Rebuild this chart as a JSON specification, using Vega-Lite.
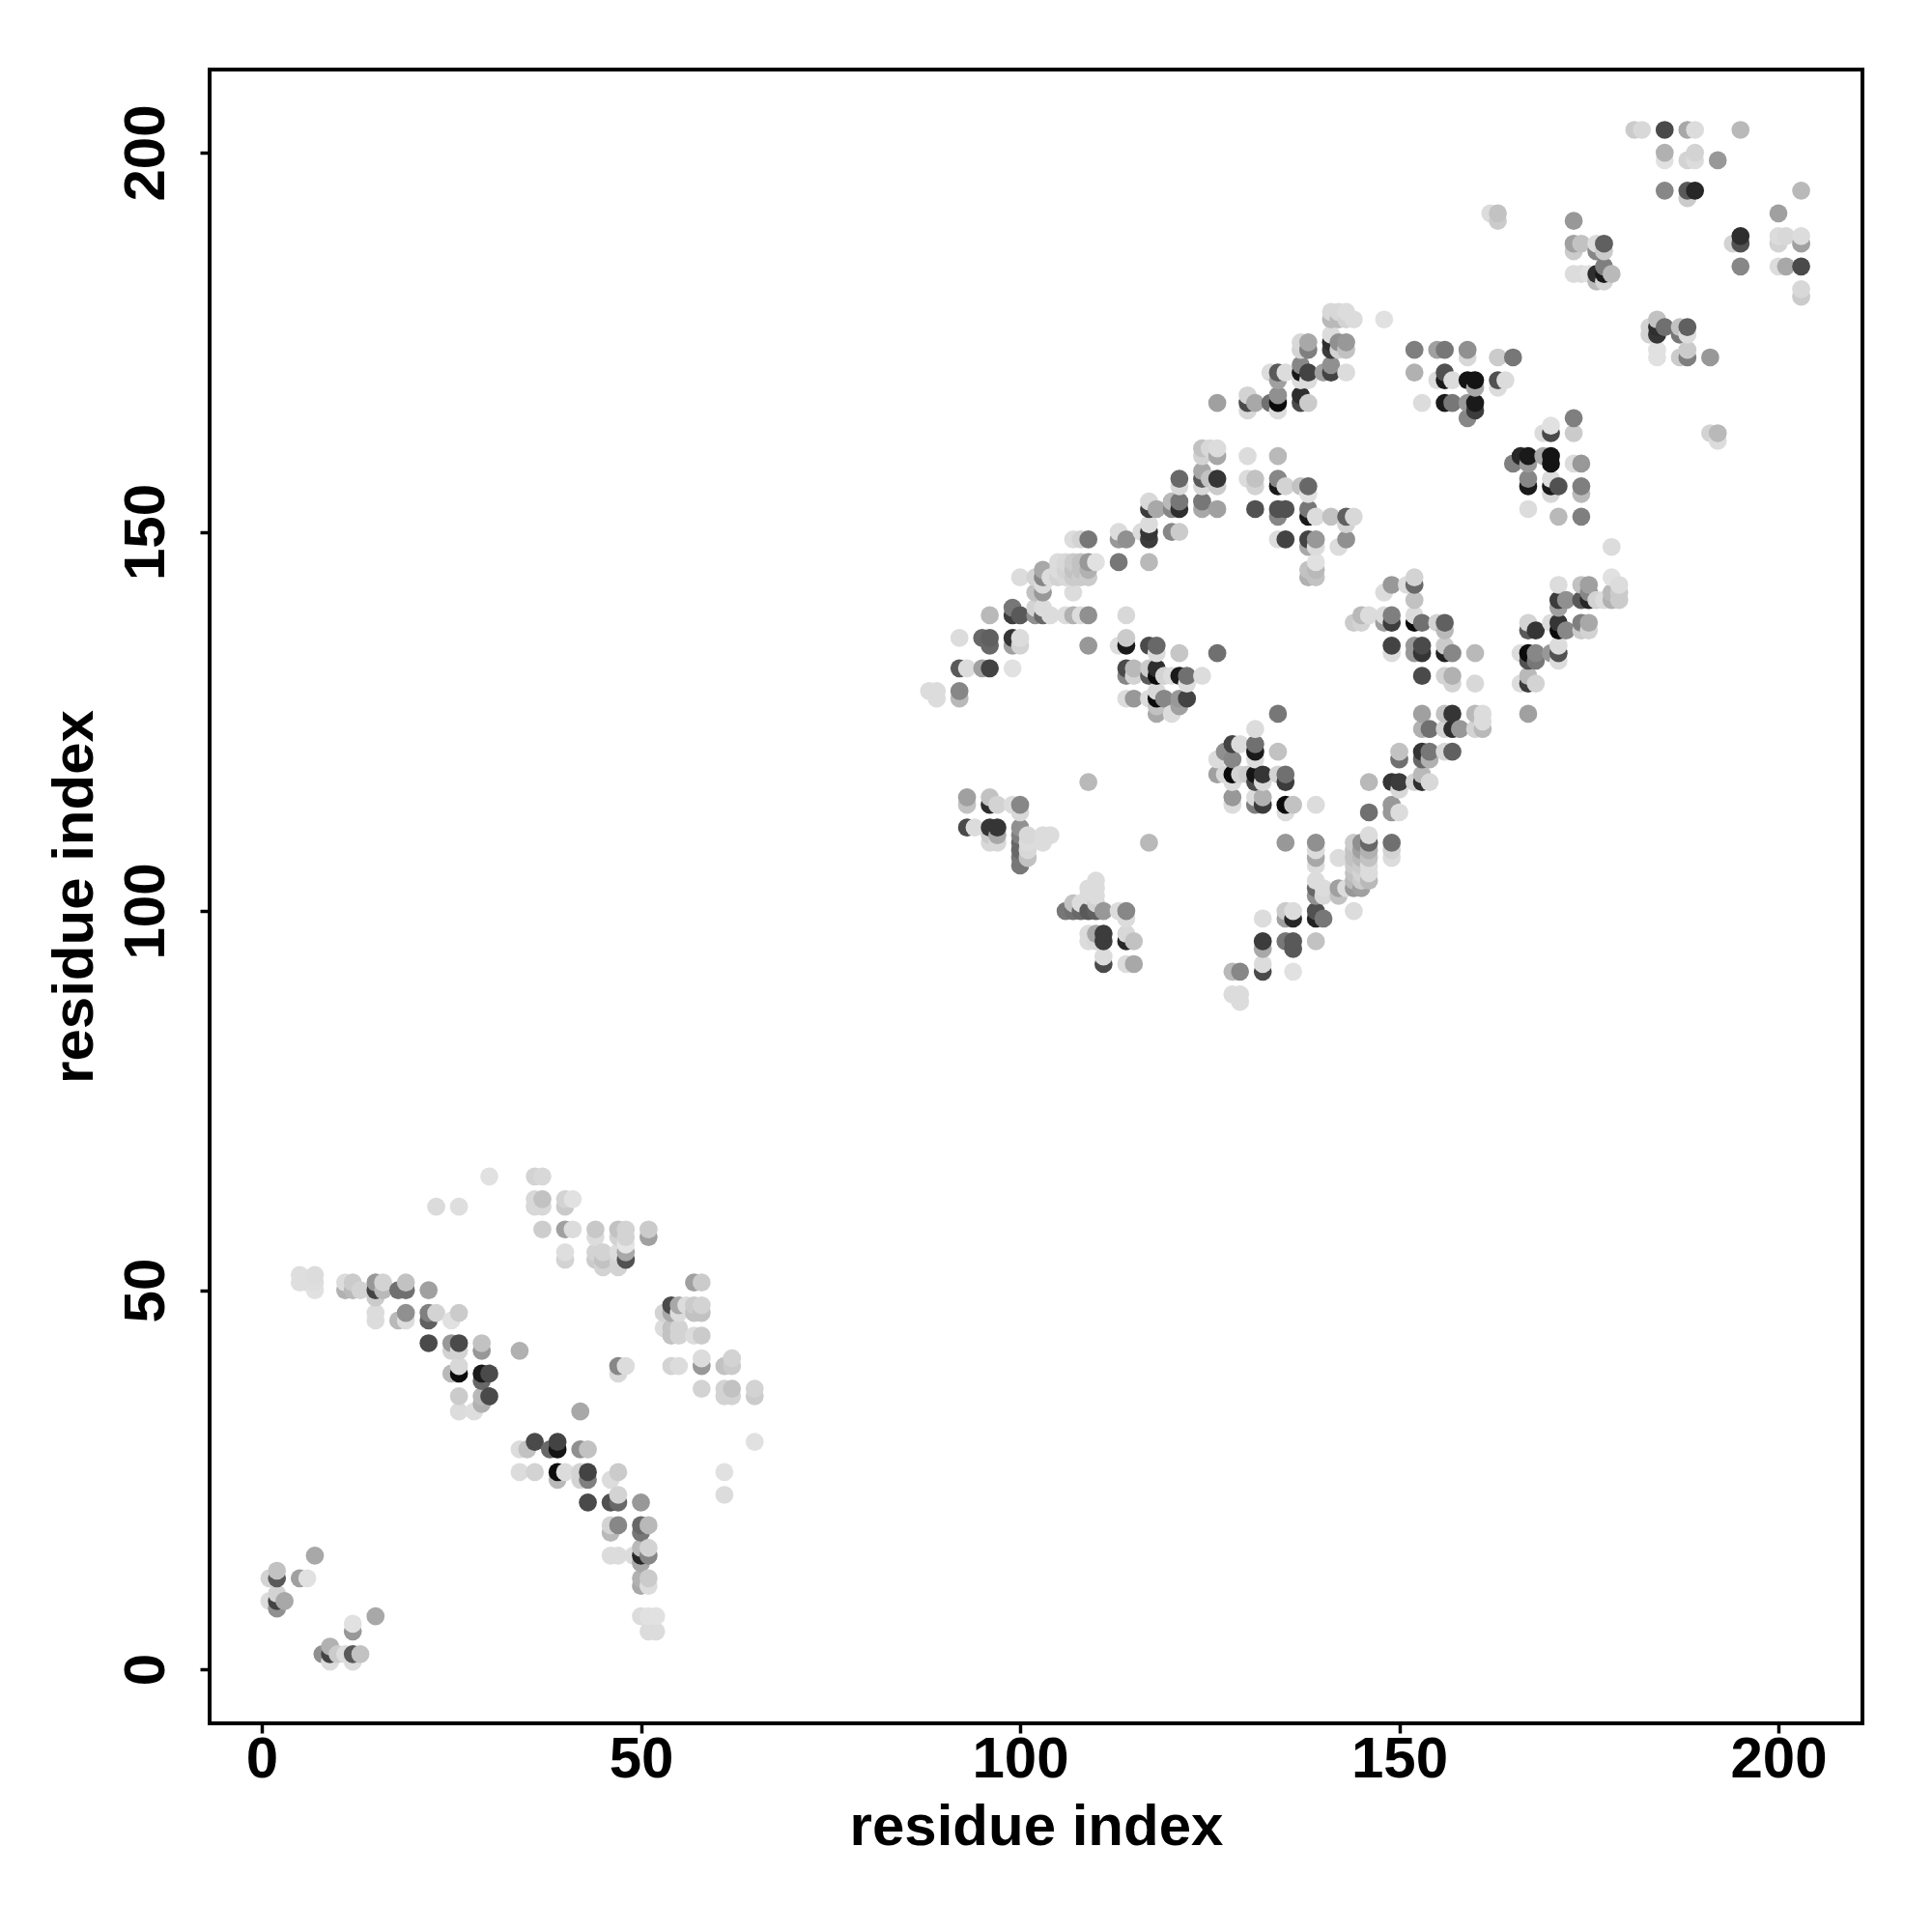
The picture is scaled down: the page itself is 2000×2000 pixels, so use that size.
{"$schema":"https://vega.github.io/schema/vega-lite/v6.json","width":1711,"height":1712,"autosize":"none","padding":{"left":217,"top":72,"right":72,"bottom":216},"background":"white","config":{"view":{"stroke":"black","strokeWidth":4}},
"data":{"values":[
{"i":30,"j":65,"s":27},{"i":36,"j":65,"s":39},{"i":37,"j":65,"s":35},{"i":36,"j":62,"s":35},{"i":37,"j":62,"s":55},{"i":36,"j":61,"s":35},{"i":37,"j":61,"s":35},{"i":23,"j":61,"s":32},{"i":26,"j":61,"s":29},{"i":40,"j":62,"s":39},{"i":40,"j":61,"s":48},{"i":41,"j":62,"s":27},{"i":37,"j":58,"s":45},{"i":40,"j":58,"s":87},{"i":41,"j":58,"s":31},{"i":44,"j":58,"s":49},{"i":47,"j":58,"s":55},{"i":48,"j":58,"s":39},{"i":51,"j":58,"s":47},{"i":51,"j":57,"s":87},{"i":44,"j":57,"s":31},{"i":48,"j":57,"s":39},{"i":47,"j":57,"s":39},{"i":48,"j":56,"s":23},{"i":40,"j":55,"s":29},{"i":40,"j":54,"s":39},{"i":44,"j":55,"s":39},{"i":45,"j":55,"s":39},{"i":44,"j":54,"s":47},{"i":45,"j":54,"s":55},{"i":45,"j":53,"s":39},{"i":47,"j":55,"s":31},{"i":47,"j":54,"s":39},{"i":47,"j":53,"s":39},{"i":48,"j":55,"s":79},{"i":48,"j":54,"s":167},
{"i":5,"j":52,"s":29},{"i":7,"j":52,"s":31},{"i":5,"j":51,"s":29},{"i":6,"j":51,"s":29},{"i":7,"j":51,"s":29},{"i":7,"j":50,"s":27},{"i":11,"j":51,"s":31},{"i":12,"j":51,"s":47},{"i":11,"j":50,"s":71},{"i":12,"j":50,"s":63},{"i":15,"j":51,"s":95},{"i":16,"j":51,"s":39},{"i":13,"j":50,"s":39},{"i":15,"j":50,"s":183},{"i":16,"j":50,"s":63},{"i":15,"j":49,"s":47},{"i":18,"j":50,"s":135},{"i":19,"j":50,"s":135},{"i":19,"j":51,"s":55},{"i":22,"j":50,"s":87},{"i":15,"j":47,"s":31},{"i":15,"j":46,"s":31},{"i":18,"j":46,"s":63},{"i":19,"j":47,"s":103},{"i":19,"j":46,"s":31},{"i":22,"j":47,"s":119},{"i":22,"j":46,"s":151},{"i":23,"j":47,"s":39},{"i":25,"j":46,"s":27},{"i":26,"j":47,"s":47},{"i":22,"j":43,"s":175},{"i":25,"j":43,"s":95},{"i":26,"j":43,"s":175},{"i":29,"j":43,"s":55},{"i":29,"j":42,"s":95},{"i":25,"j":42,"s":39},{"i":26,"j":42,"s":39},{"i":34,"j":42,"s":71},{"i":26,"j":40,"s":35},{"i":26,"j":39,"s":247},{"i":25,"j":39,"s":63},{"i":29,"j":39,"s":231},{"i":30,"j":39,"s":175},{"i":29,"j":38,"s":143},{"i":26,"j":36,"s":47},{"i":29,"j":36,"s":63},{"i":30,"j":36,"s":175},{"i":29,"j":35,"s":71},{"i":26,"j":34,"s":31},{"i":28,"j":34,"s":29},
{"i":47,"j":40,"s":111},{"i":48,"j":40,"s":31},{"i":47,"j":39,"s":35},{"i":42,"j":34,"s":79},{"i":36,"j":30,"s":175},{"i":39,"j":30,"s":183},{"i":34,"j":29,"s":31},{"i":35,"j":29,"s":55},{"i":38,"j":29,"s":143},{"i":39,"j":29,"s":239},{"i":42,"j":29,"s":103},{"i":43,"j":29,"s":55},{"i":34,"j":26,"s":31},{"i":36,"j":26,"s":39},{"i":39,"j":26,"s":247},{"i":40,"j":26,"s":31},{"i":42,"j":26,"s":39},{"i":43,"j":26,"s":183},{"i":43,"j":25,"s":119},{"i":39,"j":25,"s":63},{"i":42,"j":25,"s":39},{"i":47,"j":26,"s":47},{"i":46,"j":25,"s":31},{"i":43,"j":22,"s":175},{"i":46,"j":22,"s":167},{"i":47,"j":22,"s":143},{"i":47,"j":23,"s":39},{"i":50,"j":22,"s":95},{"i":46,"j":19,"s":39},{"i":47,"j":19,"s":111},{"i":46,"j":18,"s":63},{"i":50,"j":19,"s":143},{"i":51,"j":19,"s":63},{"i":50,"j":18,"s":127},{"i":46,"j":15,"s":31},{"i":47,"j":15,"s":31},{"i":49,"j":15,"s":31},{"i":50,"j":16,"s":63},{"i":51,"j":16,"s":39},{"i":50,"j":15,"s":215},{"i":51,"j":15,"s":111},{"i":50,"j":14,"s":79},{"i":50,"j":12,"s":71},{"i":51,"j":12,"s":47},{"i":50,"j":11,"s":79},{"i":51,"j":11,"s":31},{"i":50,"j":7,"s":31},{"i":51,"j":7,"s":27},{"i":52,"j":7,"s":27},{"i":51,"j":5,"s":31},{"i":52,"j":5,"s":31},
{"i":7,"j":15,"s":79},{"i":2,"j":13,"s":55},{"i":2,"j":12,"s":159},{"i":1,"j":12,"s":39},{"i":5,"j":12,"s":87},{"i":6,"j":12,"s":27},{"i":1,"j":9,"s":31},{"i":2,"j":10,"s":39},{"i":2,"j":9,"s":183},{"i":3,"j":9,"s":79},{"i":2,"j":8,"s":103},{"i":15,"j":7,"s":79},{"i":12,"j":6,"s":27},{"i":12,"j":5,"s":95},{"i":8,"j":2,"s":103},{"i":9,"j":3,"s":71},{"i":9,"j":2,"s":183},{"i":10,"j":2,"s":47},{"i":12,"j":2,"s":159},{"i":13,"j":2,"s":55},{"i":9,"j":1,"s":31},{"i":12,"j":1,"s":31},{"i":11,"j":2,"s":31},
{"i":57,"j":51,"s":87},{"i":58,"j":51,"s":47},{"i":54,"j":48,"s":175},{"i":55,"j":48,"s":79},{"i":56,"j":48,"s":31},{"i":57,"j":48,"s":47},{"i":58,"j":48,"s":39},{"i":53,"j":47,"s":39},{"i":54,"j":47,"s":79},{"i":55,"j":47,"s":31},{"i":57,"j":47,"s":55},{"i":58,"j":47,"s":55},{"i":53,"j":45,"s":31},{"i":54,"j":45,"s":55},{"i":55,"j":45,"s":39},{"i":54,"j":44,"s":55},{"i":55,"j":44,"s":39},{"i":57,"j":44,"s":31},{"i":58,"j":44,"s":47},{"i":54,"j":40,"s":39},{"i":55,"j":40,"s":31},{"i":58,"j":41,"s":31},{"i":58,"j":40,"s":95},{"i":61,"j":40,"s":55},{"i":62,"j":41,"s":39},{"i":62,"j":40,"s":47},{"i":58,"j":37,"s":39},{"i":61,"j":37,"s":39},{"i":62,"j":37,"s":55},{"i":61,"j":36,"s":39},{"i":62,"j":36,"s":39},{"i":65,"j":37,"s":39},{"i":65,"j":36,"s":47},{"i":65,"j":30,"s":27},{"i":61,"j":26,"s":27},{"i":61,"j":23,"s":31},
{"i":110,"j":146,"s":27},{"i":109,"j":146,"s":95},{"i":113,"j":146,"s":127},{"i":117,"j":146,"s":63},{"i":100,"j":144,"s":31},{"i":103,"j":145,"s":79},{"i":105,"j":146,"s":31},{"i":106,"j":146,"s":35},{"i":107,"j":146,"s":47},{"i":108,"j":146,"s":55},{"i":105,"j":145,"s":31},{"i":106,"j":145,"s":39},{"i":107,"j":145,"s":55},{"i":108,"j":145,"s":55},{"i":109,"j":145,"s":71},{"i":104,"j":144,"s":31},{"i":105,"j":144,"s":39},{"i":106,"j":144,"s":35},{"i":107,"j":144,"s":47},{"i":108,"j":144,"s":47},{"i":109,"j":144,"s":47},{"i":103,"j":144,"s":111},{"i":102,"j":144,"s":39},{"i":103,"j":143,"s":31},{"i":107,"j":142,"s":31},{"i":102,"j":142,"s":55},{"i":103,"j":142,"s":95},{"i":99,"j":140,"s":127},{"i":102,"j":140,"s":39},{"i":103,"j":140,"s":31},{"i":96,"j":139,"s":63},{"i":99,"j":139,"s":191},{"i":100,"j":139,"s":159},{"i":102,"j":139,"s":103},{"i":103,"j":139,"s":143},{"i":104,"j":139,"s":31},{"i":106,"j":139,"s":31},{"i":107,"j":139,"s":71},{"i":108,"j":139,"s":31},{"i":109,"j":139,"s":103},{"i":114,"j":139,"s":35},{"i":92,"j":136,"s":31},{"i":95,"j":136,"s":143},{"i":96,"j":136,"s":151},{"i":99,"j":136,"s":199},{"i":100,"j":136,"s":31},{"i":96,"j":135,"s":143},{"i":99,"j":135,"s":87},{"i":100,"j":135,"s":39},{"i":109,"j":135,"s":95},{"i":113,"j":135,"s":31},{"i":114,"j":136,"s":47},{"i":114,"j":135,"s":231},{"i":117,"j":135,"s":175},{"i":118,"j":135,"s":143},{"i":118,"j":134,"s":31},{"i":121,"j":134,"s":51},{"i":126,"j":134,"s":135},{"i":92,"j":132,"s":159},{"i":93,"j":132,"s":31},{"i":95,"j":132,"s":87},{"i":96,"j":132,"s":183},{"i":99,"j":132,"s":27},{"i":114,"j":132,"s":175},{"i":115,"j":132,"s":63},{"i":117,"j":132,"s":47},{"i":118,"j":132,"s":207},{"i":114,"j":131,"s":111},{"i":115,"j":131,"s":39},{"i":117,"j":131,"s":159},{"i":118,"j":131,"s":247},{"i":119,"j":131,"s":39},{"i":120,"j":131,"s":31},{"i":121,"j":131,"s":231},{"i":122,"j":131,"s":135},{"i":124,"j":131,"s":31},{"i":122,"j":130,"s":31},{"i":118,"j":129,"s":35},{"i":88,"j":129,"s":31},{"i":89,"j":129,"s":31},{"i":89,"j":128,"s":31},{"i":92,"j":129,"s":111},{"i":92,"j":128,"s":63},{"i":114,"j":128,"s":31},{"i":115,"j":128,"s":95},{"i":117,"j":128,"s":31},{"i":118,"j":128,"s":247},{"i":119,"j":128,"s":111},{"i":121,"j":128,"s":95},{"i":122,"j":128,"s":183},{"i":121,"j":127,"s":87},{"i":118,"j":127,"s":55},{"i":118,"j":126,"s":79},{"i":120,"j":126,"s":31},
{"i":134,"j":126,"s":127},{"i":131,"j":124,"s":31},{"i":128,"j":122,"s":183},{"i":131,"j":122,"s":135},{"i":131,"j":121,"s":231},{"i":127,"j":121,"s":103},{"i":129,"j":122,"s":31},{"i":134,"j":121,"s":55},{"i":126,"j":120,"s":31},{"i":128,"j":120,"s":111},{"i":131,"j":120,"s":31},{"i":126,"j":118,"s":87},{"i":127,"j":118,"s":35},{"i":128,"j":118,"s":247},{"i":129,"j":118,"s":39},{"i":130,"j":118,"s":47},{"i":131,"j":118,"s":239},{"i":132,"j":118,"s":199},{"i":134,"j":118,"s":39},{"i":135,"j":118,"s":135},{"i":131,"j":117,"s":175},{"i":132,"j":117,"s":35},{"i":135,"j":117,"s":191},{"i":128,"j":117,"s":31},{"i":128,"j":115,"s":95},{"i":128,"j":114,"s":31},{"i":131,"j":115,"s":31},{"i":132,"j":115,"s":71},{"i":131,"j":114,"s":119},{"i":132,"j":114,"s":191},{"i":135,"j":114,"s":247},{"i":136,"j":114,"s":55},{"i":135,"j":113,"s":31},{"i":139,"j":114,"s":31},
{"i":93,"j":115,"s":87},{"i":93,"j":114,"s":55},{"i":96,"j":115,"s":55},{"i":96,"j":114,"s":207},{"i":97,"j":114,"s":39},{"i":99,"j":114,"s":31},{"i":100,"j":114,"s":111},{"i":100,"j":113,"s":35},{"i":93,"j":111,"s":175},{"i":94,"j":111,"s":31},{"i":96,"j":111,"s":199},{"i":97,"j":111,"s":199},{"i":96,"j":110,"s":47},{"i":97,"j":110,"s":79},{"i":96,"j":109,"s":35},{"i":97,"j":109,"s":35},{"i":100,"j":111,"s":103},{"i":100,"j":110,"s":119},{"i":101,"j":110,"s":35},{"i":100,"j":109,"s":143},{"i":101,"j":109,"s":31},{"i":100,"j":108,"s":143},{"i":101,"j":108,"s":35},{"i":100,"j":107,"s":127},{"i":101,"j":107,"s":55},{"i":100,"j":106,"s":127},{"i":103,"j":110,"s":31},{"i":104,"j":110,"s":31},{"i":103,"j":109,"s":31},
{"i":109,"j":117,"s":63},{"i":117,"j":109,"s":63},{"i":135,"j":109,"s":95},{"i":139,"j":109,"s":103},{"i":139,"j":108,"s":31},{"i":139,"j":107,"s":79},{"i":139,"j":106,"s":31},{"i":142,"j":107,"s":31},{"i":144,"j":109,"s":47},{"i":145,"j":109,"s":103},{"i":146,"j":110,"s":31},{"i":146,"j":109,"s":143},{"i":149,"j":109,"s":135},{"i":149,"j":108,"s":39},{"i":149,"j":107,"s":31},{"i":144,"j":108,"s":55},{"i":144,"j":107,"s":55},{"i":144,"j":106,"s":47},{"i":144,"j":105,"s":55},{"i":144,"j":104,"s":63},{"i":144,"j":103,"s":95},{"i":145,"j":108,"s":87},{"i":145,"j":107,"s":63},{"i":145,"j":106,"s":47},{"i":145,"j":105,"s":39},{"i":145,"j":104,"s":47},{"i":145,"j":103,"s":87},{"i":146,"j":108,"s":71},{"i":146,"j":107,"s":55},{"i":146,"j":106,"s":31},{"i":146,"j":105,"s":31},{"i":146,"j":104,"s":63},{"i":144,"j":100,"s":31},{"i":139,"j":104,"s":31},{"i":139,"j":103,"s":143},{"i":139,"j":102,"s":103},{"i":140,"j":103,"s":31},{"i":140,"j":102,"s":35},{"i":142,"j":103,"s":87},{"i":143,"j":103,"s":31},{"i":142,"j":102,"s":55},{"i":136,"j":100,"s":31},{"i":135,"j":100,"s":47},{"i":139,"j":100,"s":167},{"i":135,"j":99,"s":87},{"i":136,"j":99,"s":215},{"i":132,"j":99,"s":31},{"i":139,"j":99,"s":223},{"i":140,"j":99,"s":127},{"i":132,"j":96,"s":191},{"i":135,"j":96,"s":127},{"i":136,"j":96,"s":159},{"i":136,"j":95,"s":159},{"i":139,"j":96,"s":55},{"i":132,"j":95,"s":79},{"i":132,"j":93,"s":31},{"i":132,"j":92,"s":175},{"i":136,"j":92,"s":27},{"i":128,"j":92,"s":63},{"i":129,"j":92,"s":111},{"i":128,"j":89,"s":31},{"i":129,"j":89,"s":31},{"i":129,"j":88,"s":31},
{"i":106,"j":100,"s":127},{"i":107,"j":100,"s":135},{"i":107,"j":101,"s":55},{"i":108,"j":100,"s":143},{"i":108,"j":101,"s":31},{"i":109,"j":100,"s":159},{"i":110,"j":100,"s":151},{"i":111,"j":100,"s":95},{"i":113,"j":100,"s":31},{"i":114,"j":100,"s":111},{"i":114,"j":99,"s":31},{"i":110,"j":104,"s":31},{"i":109,"j":103,"s":31},{"i":110,"j":103,"s":31},{"i":110,"j":102,"s":31},{"i":109,"j":102,"s":31},{"i":110,"j":101,"s":39},{"i":109,"j":97,"s":31},{"i":110,"j":97,"s":79},{"i":111,"j":97,"s":191},{"i":109,"j":96,"s":31},{"i":110,"j":96,"s":35},{"i":111,"j":96,"s":191},{"i":114,"j":97,"s":35},{"i":114,"j":96,"s":215},{"i":115,"j":96,"s":55},{"i":111,"j":94,"s":31},{"i":111,"j":93,"s":175},{"i":114,"j":93,"s":31},{"i":115,"j":93,"s":79},
{"i":178,"j":148,"s":31},{"i":178,"j":144,"s":27},{"i":179,"j":143,"s":31},{"i":171,"j":143,"s":31},{"i":174,"j":143,"s":55},{"i":175,"j":143,"s":87},{"i":178,"j":142,"s":63},{"i":179,"j":142,"s":47},{"i":178,"j":141,"s":71},{"i":179,"j":141,"s":47},{"i":171,"j":141,"s":191},{"i":172,"j":141,"s":103},{"i":174,"j":141,"s":159},{"i":175,"j":141,"s":215},{"i":176,"j":141,"s":39},{"i":177,"j":141,"s":31},{"i":171,"j":140,"s":87},{"i":175,"j":142,"s":111},{"i":167,"j":138,"s":39},{"i":168,"j":137,"s":199},{"i":167,"j":137,"s":159},{"i":170,"j":138,"s":31},{"i":171,"j":138,"s":199},{"i":172,"j":137,"s":111},{"i":171,"j":137,"s":247},{"i":174,"j":138,"s":119},{"i":175,"j":138,"s":79},{"i":174,"j":137,"s":47},{"i":175,"j":137,"s":39},{"i":166,"j":134,"s":31},{"i":167,"j":134,"s":247},{"i":168,"j":134,"s":111},{"i":167,"j":133,"s":167},{"i":168,"j":133,"s":127},{"i":170,"j":134,"s":95},{"i":171,"j":135,"s":31},{"i":171,"j":134,"s":167},{"i":171,"j":133,"s":31},{"i":166,"j":130,"s":31},{"i":167,"j":131,"s":63},{"i":167,"j":130,"s":191},{"i":168,"j":130,"s":39},{"i":167,"j":126,"s":87},
{"i":149,"j":143,"s":95},{"i":148,"j":142,"s":31},{"i":151,"j":143,"s":31},{"i":152,"j":144,"s":39},{"i":152,"j":143,"s":143},{"i":152,"j":141,"s":55},{"i":145,"j":139,"s":63},{"i":146,"j":139,"s":31},{"i":145,"j":138,"s":39},{"i":144,"j":138,"s":47},{"i":148,"j":139,"s":31},{"i":149,"j":139,"s":119},{"i":148,"j":138,"s":87},{"i":149,"j":138,"s":191},{"i":149,"j":135,"s":183},{"i":149,"j":134,"s":31},{"i":152,"j":139,"s":31},{"i":152,"j":138,"s":247},{"i":153,"j":138,"s":135},{"i":155,"j":138,"s":39},{"i":156,"j":138,"s":151},{"i":156,"j":137,"s":63},{"i":152,"j":135,"s":95},{"i":153,"j":135,"s":175},{"i":153,"j":134,"s":199},{"i":152,"j":134,"s":95},{"i":156,"j":135,"s":47},{"i":156,"j":134,"s":223},{"i":157,"j":134,"s":111},{"i":160,"j":134,"s":63},{"i":153,"j":131,"s":175},{"i":156,"j":131,"s":39},{"i":157,"j":131,"s":71},{"i":157,"j":130,"s":39},{"i":160,"j":130,"s":35},{"i":153,"j":126,"s":87},{"i":156,"j":126,"s":55},{"i":157,"j":126,"s":199},{"i":160,"j":126,"s":63},{"i":161,"j":126,"s":31},{"i":161,"j":125,"s":31},{"i":153,"j":124,"s":71},{"i":154,"j":124,"s":135},{"i":156,"j":124,"s":39},{"i":157,"j":124,"s":207},{"i":158,"j":124,"s":95},{"i":160,"j":124,"s":39},{"i":161,"j":124,"s":63},{"i":150,"j":121,"s":55},{"i":150,"j":120,"s":135},{"i":153,"j":121,"s":199},{"i":154,"j":121,"s":127},{"i":154,"j":120,"s":71},{"i":153,"j":120,"s":143},{"i":156,"j":121,"s":35},{"i":157,"j":121,"s":151},{"i":146,"j":117,"s":63},{"i":149,"j":117,"s":199},{"i":150,"j":117,"s":191},{"i":150,"j":116,"s":35},{"i":152,"j":117,"s":39},{"i":153,"j":118,"s":63},{"i":153,"j":117,"s":207},{"i":154,"j":117,"s":35},{"i":149,"j":114,"s":95},{"i":149,"j":113,"s":95},{"i":150,"j":113,"s":31},{"i":146,"j":113,"s":135},
{"i":181,"j":203,"s":47},{"i":182,"j":203,"s":35},{"i":185,"j":203,"s":175},{"i":188,"j":203,"s":79},{"i":189,"j":203,"s":31},{"i":195,"j":203,"s":63},{"i":185,"j":200,"s":71},{"i":185,"j":199,"s":27},{"i":188,"j":199,"s":39},{"i":189,"j":200,"s":39},{"i":189,"j":199,"s":31},{"i":192,"j":199,"s":95},{"i":185,"j":195,"s":111},{"i":188,"j":195,"s":159},{"i":189,"j":195,"s":215},{"i":188,"j":194,"s":47},{"i":203,"j":195,"s":63},{"i":162,"j":192,"s":31},{"i":163,"j":192,"s":55},{"i":163,"j":191,"s":47},{"i":173,"j":191,"s":95},{"i":200,"j":192,"s":87},{"i":173,"j":188,"s":87},{"i":174,"j":188,"s":55},{"i":173,"j":187,"s":47},{"i":176,"j":188,"s":31},{"i":177,"j":188,"s":151},{"i":176,"j":187,"s":111},{"i":177,"j":187,"s":47},{"i":177,"j":185,"s":119},{"i":173,"j":184,"s":31},{"i":174,"j":184,"s":31},{"i":175,"j":184,"s":27},{"i":176,"j":184,"s":207},{"i":177,"j":184,"s":231},{"i":178,"j":184,"s":63},{"i":176,"j":183,"s":63},{"i":177,"j":183,"s":39},{"i":195,"j":189,"s":207},{"i":195,"j":188,"s":167},{"i":194,"j":188,"s":39},{"i":200,"j":188,"s":39},{"i":201,"j":189,"s":35},{"i":200,"j":189,"s":31},{"i":203,"j":189,"s":31},{"i":203,"j":188,"s":87},{"i":195,"j":185,"s":111},{"i":200,"j":185,"s":31},{"i":201,"j":185,"s":79},{"i":203,"j":185,"s":175},{"i":203,"j":182,"s":35},{"i":203,"j":181,"s":47},{"i":184,"j":178,"s":55},{"i":183,"j":177,"s":39},{"i":184,"j":177,"s":207},{"i":185,"j":177,"s":135},{"i":184,"j":176,"s":199},{"i":183,"j":176,"s":39},{"i":187,"j":177,"s":55},{"i":188,"j":177,"s":151},{"i":187,"j":176,"s":127},{"i":188,"j":176,"s":31},{"i":184,"j":174,"s":27},{"i":184,"j":173,"s":27},{"i":187,"j":173,"s":47},{"i":188,"j":174,"s":47},{"i":188,"j":173,"s":119},{"i":191,"j":173,"s":95},{"i":191,"j":163,"s":39},{"i":192,"j":163,"s":63},{"i":192,"j":162,"s":31},
{"i":141,"j":179,"s":35},{"i":142,"j":179,"s":35},{"i":143,"j":179,"s":31},{"i":141,"j":178,"s":63},{"i":142,"j":178,"s":63},{"i":143,"j":178,"s":39},{"i":144,"j":178,"s":31},{"i":148,"j":178,"s":27},{"i":137,"j":175,"s":35},{"i":138,"j":175,"s":79},{"i":142,"j":175,"s":103},{"i":143,"j":175,"s":95},{"i":138,"j":174,"s":119},{"i":137,"j":174,"s":39},{"i":141,"j":175,"s":207},{"i":141,"j":174,"s":191},{"i":142,"j":174,"s":39},{"i":143,"j":174,"s":55},{"i":141,"j":176,"s":31},{"i":133,"j":171,"s":31},{"i":134,"j":171,"s":159},{"i":135,"j":171,"s":31},{"i":137,"j":171,"s":231},{"i":138,"j":171,"s":183},{"i":140,"j":171,"s":87},{"i":141,"j":171,"s":183},{"i":143,"j":171,"s":31},{"i":137,"j":172,"s":111},{"i":141,"j":172,"s":103},{"i":134,"j":170,"s":87},{"i":137,"j":170,"s":31},{"i":138,"j":170,"s":31},{"i":126,"j":167,"s":87},{"i":130,"j":167,"s":175},{"i":131,"j":167,"s":79},{"i":130,"j":168,"s":39},{"i":130,"j":166,"s":35},{"i":133,"j":167,"s":135},{"i":134,"j":168,"s":103},{"i":134,"j":167,"s":247},{"i":134,"j":166,"s":31},{"i":137,"j":168,"s":207},{"i":137,"j":167,"s":175},{"i":138,"j":167,"s":47},
{"i":152,"j":174,"s":119},{"i":155,"j":174,"s":87},{"i":156,"j":174,"s":127},{"i":159,"j":174,"s":103},{"i":159,"j":173,"s":35},{"i":163,"j":173,"s":47},{"i":165,"j":173,"s":127},{"i":152,"j":171,"s":71},{"i":156,"j":171,"s":167},{"i":155,"j":170,"s":31},{"i":156,"j":170,"s":231},{"i":157,"j":170,"s":31},{"i":159,"j":170,"s":239},{"i":160,"j":170,"s":239},{"i":160,"j":169,"s":79},{"i":163,"j":170,"s":167},{"i":164,"j":170,"s":31},{"i":163,"j":169,"s":31},{"i":153,"j":167,"s":31},{"i":156,"j":167,"s":231},{"i":157,"j":167,"s":127},{"i":159,"j":167,"s":95},{"i":160,"j":167,"s":231},{"i":160,"j":166,"s":191},{"i":159,"j":165,"s":111},{"i":173,"j":165,"s":119},{"i":170,"j":164,"s":27},{"i":170,"j":163,"s":175},{"i":169,"j":163,"s":31},{"i":173,"j":163,"s":47},{"i":166,"j":160,"s":215},{"i":167,"j":160,"s":231},{"i":165,"j":159,"s":119},{"i":167,"j":159,"s":95},{"i":169,"j":160,"s":79},{"i":170,"j":160,"s":239},{"i":170,"j":159,"s":239},{"i":173,"j":159,"s":31},{"i":174,"j":159,"s":95},{"i":167,"j":157,"s":111},{"i":167,"j":156,"s":231},{"i":170,"j":156,"s":231},{"i":171,"j":156,"s":167},{"i":170,"j":157,"s":31},{"i":174,"j":156,"s":119},{"i":174,"j":155,"s":63},{"i":170,"j":155,"s":35},{"i":167,"j":153,"s":31},{"i":171,"j":152,"s":63},{"i":174,"j":152,"s":119},
{"i":124,"j":161,"s":55},{"i":125,"j":161,"s":35},{"i":126,"j":161,"s":31},{"i":124,"j":160,"s":39},{"i":126,"j":160,"s":79},{"i":130,"j":160,"s":31},{"i":134,"j":160,"s":63},{"i":124,"j":158,"s":79},{"i":124,"j":157,"s":159},{"i":121,"j":157,"s":143},{"i":126,"j":157,"s":199},{"i":125,"j":157,"s":55},{"i":130,"j":157,"s":31},{"i":131,"j":157,"s":55},{"i":131,"j":156,"s":39},{"i":134,"j":157,"s":111},{"i":134,"j":156,"s":231},{"i":135,"j":156,"s":39},{"i":137,"j":156,"s":55},{"i":138,"j":156,"s":143},{"i":126,"j":156,"s":47},{"i":124,"j":156,"s":35},{"i":121,"j":156,"s":35},{"i":117,"j":154,"s":35},{"i":117,"j":153,"s":191},{"i":118,"j":153,"s":79},{"i":120,"j":154,"s":63},{"i":121,"j":154,"s":127},{"i":120,"j":153,"s":111},{"i":121,"j":153,"s":207},{"i":124,"j":154,"s":127},{"i":124,"j":153,"s":79},{"i":126,"j":153,"s":87},{"i":131,"j":153,"s":167},{"i":134,"j":153,"s":167},{"i":135,"j":153,"s":167},{"i":134,"j":152,"s":111},{"i":138,"j":153,"s":127},{"i":138,"j":152,"s":231},{"i":139,"j":152,"s":31},{"i":141,"j":152,"s":55},{"i":143,"j":152,"s":151},{"i":144,"j":152,"s":35},{"i":143,"j":151,"s":39},{"i":138,"j":155,"s":27},{"i":109,"j":149,"s":127},{"i":107,"j":149,"s":31},{"i":108,"j":149,"s":39},{"i":113,"j":150,"s":31},{"i":113,"j":149,"s":95},{"i":114,"j":149,"s":103},{"i":117,"j":150,"s":199},{"i":117,"j":149,"s":191},{"i":116,"j":150,"s":31},{"i":120,"j":150,"s":111},{"i":121,"j":150,"s":47},{"i":117,"j":151,"s":31},{"i":134,"j":149,"s":31},{"i":135,"j":149,"s":183},{"i":138,"j":149,"s":183},{"i":139,"j":149,"s":95},{"i":138,"j":148,"s":79},{"i":139,"j":148,"s":31},{"i":143,"j":149,"s":103},{"i":142,"j":148,"s":31},{"i":139,"j":146,"s":27},{"i":138,"j":145,"s":55},{"i":139,"j":145,"s":63},{"i":138,"j":144,"s":71},{"i":139,"j":144,"s":55}
]},
"transform":[{"window":[{"op":"row_number","as":"k"}],"sort":[{"field":"i","order":"ascending"},{"field":"j","order":"ascending"}]}],
"mark":{"type":"point","filled":true,"opacity":1,"size":350,"strokeWidth":0},
"encoding":{
"x":{"field":"i","type":"quantitative","title":"residue index","scale":{"domain":[-6.88,211.08],"nice":false,"zero":false},"axis":{"values":[0,50,100,150,200],"grid":false,"domain":false,"tickSize":10,"tickWidth":3.5,"tickColor":"black","labelFont":"Liberation Sans","labelFontWeight":"bold","labelFontSize":60,"labelColor":"black","labelPadding":-2,"labelFlush":false,"labelOverlap":false,"titleFont":"Liberation Sans","titleFontWeight":"bold","titleFontSize":60,"titleColor":"black","titlePadding":11}},
"y":{"field":"j","type":"quantitative","title":"residue index","scale":{"domain":[-7.13,210.96],"nice":false,"zero":false},"axis":{"values":[0,50,100,150,200],"grid":false,"domain":false,"tickSize":10,"tickWidth":3.5,"tickColor":"black","labelFont":"Liberation Sans","labelFontWeight":"bold","labelFontSize":60,"labelColor":"black","labelAngle":-90,"labelAlign":"center","labelBaseline":"bottom","labelPadding":25,"labelFlush":false,"labelOverlap":false,"titleFont":"Liberation Sans","titleFontWeight":"bold","titleFontSize":60,"titleColor":"black","titlePadding":13}},
"color":{"field":"s","type":"quantitative","legend":null,"scale":{"domain":[0,255],"range":["#ffffff","#000000"]}},
"order":{"field":"k","type":"quantitative"}
}}
